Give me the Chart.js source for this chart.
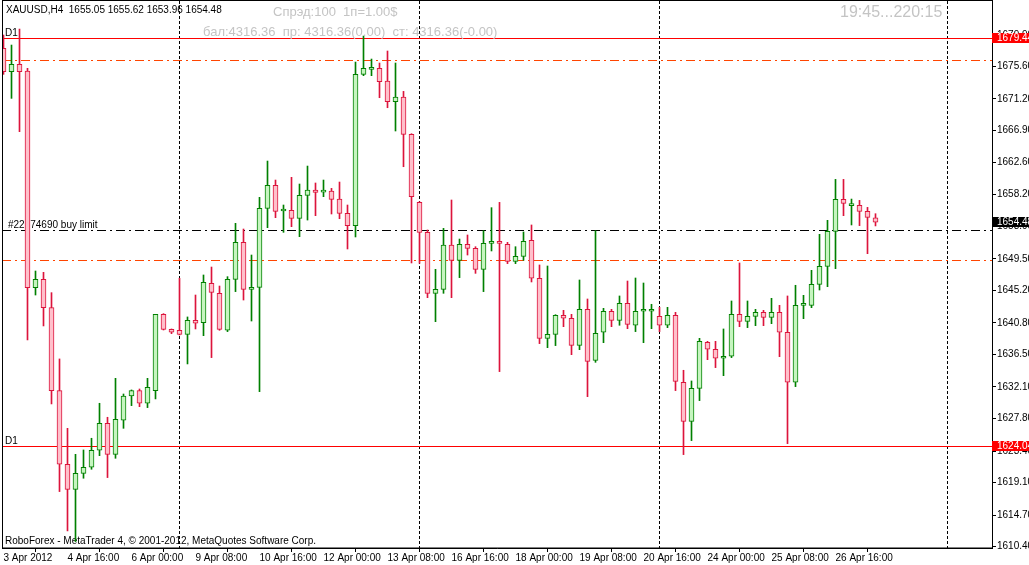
<!DOCTYPE html>
<html>
<head>
<meta charset="utf-8">
<script src="https://cdn.jsdelivr.net/npm/chart.js@4"></script>
<style>
  html, body { margin: 0; padding: 0; background: #fff; }
</style>
</head>
<body>
<canvas id="grafico-xauusd" width="1029" height="565"></canvas>
<script>
// XAUUSD H4, uma vela por barra (indice da barra = posicao no eixo x)
var abertura = [
  1678.07, 1674.90, 1675.90, 1674.99, 1645.58, 1646.71, 1642.86, 1631.60, 1621.60, 1618.20,
  1620.37, 1621.19, 1623.50, 1627.16, 1622.95, 1627.57, 1630.87, 1631.60, 1629.88, 1631.60,
  1641.96, 1639.92, 1639.79, 1639.24, 1641.14, 1640.83, 1646.17, 1644.81, 1639.79, 1646.71,
  1651.73, 1645.35, 1645.62, 1656.35, 1659.47, 1655.99, 1656.08, 1654.99, 1658.11, 1658.84,
  1658.56, 1658.70, 1657.61, 1655.67, 1653.99, 1674.54, 1675.22, 1675.35, 1673.63, 1670.83,
  1671.46, 1666.39, 1657.16, 1653.09, 1644.81, 1645.35, 1651.37, 1649.29, 1651.46, 1650.92,
  1648.07, 1651.60, 1651.87, 1651.46, 1649.15, 1649.83, 1652.00, 1646.85, 1638.70, 1639.24,
  1641.82, 1641.42, 1637.75, 1642.64, 1635.71, 1639.52, 1642.37, 1641.14, 1643.45, 1640.47,
  1642.37, 1642.37, 1641.69, 1640.47, 1641.82, 1632.73, 1627.43, 1631.91, 1638.16, 1637.21,
  1635.99, 1636.26, 1641.96, 1641.01, 1641.69, 1642.23, 1641.55, 1642.23, 1639.52, 1632.73,
  1643.18, 1643.18, 1646.03, 1648.47, 1653.23, 1657.57, 1656.71, 1656.76, 1655.94, 1655.05
];
var maxima = [
  1679.88, 1678.52, 1680.69, 1675.35, 1647.84, 1647.66, 1644.90, 1635.90, 1626.48, 1622.95,
  1623.54, 1625.13, 1629.88, 1627.98, 1633.27, 1631.14, 1631.69, 1631.82, 1633.27, 1641.96,
  1642.05, 1639.97, 1646.85, 1641.60, 1644.58, 1647.30, 1648.38, 1645.80, 1647.07, 1654.31,
  1653.54, 1650.01, 1657.84, 1662.77, 1660.19, 1656.80, 1660.56, 1659.65, 1662.09, 1659.79,
  1660.19, 1659.06, 1659.92, 1656.80, 1676.21, 1679.74, 1676.62, 1676.08, 1677.71, 1676.08,
  1672.23, 1666.48, 1657.25, 1653.41, 1648.07, 1653.63, 1657.48, 1652.18, 1652.73, 1651.14,
  1653.32, 1656.44, 1657.16, 1651.73, 1651.14, 1653.14, 1654.09, 1648.66, 1648.52, 1641.91,
  1642.50, 1641.96, 1646.62, 1644.04, 1653.32, 1642.77, 1642.64, 1644.45, 1646.48, 1646.89,
  1646.21, 1643.32, 1642.91, 1642.91, 1642.23, 1634.36, 1632.91, 1638.70, 1638.29, 1638.29,
  1639.97, 1643.77, 1648.93, 1643.77, 1642.64, 1642.50, 1644.13, 1643.18, 1644.45, 1645.90,
  1644.54, 1647.93, 1652.82, 1654.72, 1660.28, 1660.28, 1657.61, 1657.43, 1656.48, 1655.62
];
var minima = [
  1674.54, 1671.28, 1666.76, 1638.47, 1644.58, 1640.38, 1629.79, 1617.89, 1612.55, 1611.10,
  1619.70, 1620.92, 1622.77, 1619.79, 1622.41, 1626.48, 1629.56, 1629.42, 1629.29, 1630.47,
  1639.83, 1639.33, 1639.15, 1635.22, 1639.97, 1639.06, 1636.08, 1639.79, 1639.61, 1645.04,
  1643.90, 1641.05, 1631.46, 1653.72, 1655.08, 1653.09, 1653.86, 1652.50, 1654.76, 1655.35,
  1657.93, 1655.58, 1654.94, 1650.83, 1652.46, 1674.36, 1674.36, 1671.37, 1670.01, 1666.85,
  1662.00, 1648.93, 1648.88, 1644.22, 1640.96, 1644.81, 1644.22, 1646.94, 1650.01, 1647.52,
  1645.04, 1650.56, 1634.18, 1648.84, 1648.84, 1649.29, 1646.35, 1637.98, 1637.43, 1637.71,
  1640.28, 1636.48, 1637.16, 1630.78, 1635.44, 1638.11, 1640.28, 1640.47, 1640.01, 1639.61,
  1638.11, 1640.01, 1639.61, 1640.15, 1631.60, 1622.91, 1624.81, 1630.24, 1635.80, 1634.72,
  1633.63, 1636.08, 1640.28, 1640.15, 1640.42, 1640.42, 1640.69, 1636.21, 1624.40, 1632.14,
  1641.37, 1642.86, 1645.26, 1645.71, 1648.16, 1655.35, 1654.09, 1654.00, 1650.19, 1653.96
];
var fechamento = [
  1674.90, 1675.90, 1674.90, 1645.58, 1646.71, 1642.86, 1631.60, 1621.60, 1618.20, 1620.37,
  1621.19, 1623.50, 1627.16, 1622.95, 1627.71, 1630.87, 1631.60, 1629.88, 1632.05, 1641.96,
  1639.92, 1639.52, 1639.24, 1641.14, 1640.74, 1646.30, 1644.94, 1639.92, 1646.71, 1651.73,
  1645.35, 1645.62, 1656.35, 1659.47, 1655.94, 1656.08, 1654.99, 1658.11, 1658.84, 1658.52,
  1658.66, 1657.57, 1655.67, 1653.99, 1674.54, 1675.35, 1675.35, 1673.54, 1670.83, 1671.46,
  1666.39, 1657.93, 1653.09, 1644.81, 1645.35, 1651.37, 1649.29, 1651.46, 1650.92, 1648.07,
  1651.60, 1651.87, 1651.60, 1649.15, 1649.83, 1651.87, 1646.85, 1638.70, 1639.24, 1641.82,
  1641.42, 1637.75, 1642.64, 1635.58, 1639.38, 1642.37, 1641.14, 1643.45, 1640.60, 1642.37,
  1642.50, 1642.50, 1640.47, 1641.82, 1632.86, 1627.43, 1631.91, 1638.29, 1637.21, 1635.99,
  1636.26, 1641.96, 1641.01, 1641.69, 1642.23, 1641.55, 1642.23, 1639.52, 1632.73, 1643.18,
  1643.32, 1646.03, 1648.47, 1653.23, 1657.57, 1657.03, 1656.80, 1655.94, 1655.13, 1654.48
];

var tickTempo = ["3 Apr 2012", "4 Apr 16:00", "6 Apr 00:00", "9 Apr 08:00", "10 Apr 16:00",
  "12 Apr 00:00", "13 Apr 08:00", "16 Apr 16:00", "18 Apr 00:00", "19 Apr 08:00",
  "20 Apr 16:00", "24 Apr 00:00", "25 Apr 08:00", "26 Apr 16:00"];
var tickTempoBarra = [0, 8, 16, 24, 32, 40, 48, 56, 64, 72, 80, 88, 96, 104];
var tickPreco = [1610.40, 1614.70, 1619.10, 1623.40, 1627.80, 1632.10, 1636.50, 1640.80,
  1645.20, 1649.50, 1653.90, 1658.20, 1662.60, 1666.90, 1671.20, 1675.60, 1679.90];

var separadores = [22, 52, 82, 118];     // inicio de semana
var linhasD1 = [1679.44, 1624.04];
var linhasNivel = [1676.48, 1649.29];
var ordemBuyLimit = 1653.36;
var precoBid = 1654.48;

var fonte = "'Liberation Sans', Arial, sans-serif";
var verdeBorda = "#008000", verdeCorpo = "#c6f5c0";
var vermelhoBorda = "#dc143c", vermelhoCorpo = "#ffc0cb";

function alta(i) { return fechamento[i] >= abertura[i]; }

var barras = abertura.map(function (v, i) { return i; });

var desenhos = {
  id: "desenhos",
  beforeDatasetsDraw: function (chart) {
    var ctx = chart.ctx, a = chart.chartArea;
    var sx = chart.scales.x, sy = chart.scales.y;
    ctx.save();
    ctx.beginPath();
    ctx.rect(a.left, a.top, a.right - a.left, a.bottom - a.top);
    ctx.clip();
    ctx.lineWidth = 1;

    ctx.strokeStyle = "#000";
    ctx.setLineDash([3, 2]);
    separadores.forEach(function (b) {
      var px = sx.getPixelForValue(b);
      ctx.beginPath();
      ctx.moveTo(px, a.top);
      ctx.lineTo(px, a.bottom);
      ctx.stroke();
    });

    function linhaH(v, cor, tracos) {
      var py = Math.round(sy.getPixelForValue(v)) + 0.5;
      ctx.strokeStyle = cor;
      ctx.setLineDash(tracos);
      ctx.beginPath();
      ctx.moveTo(a.left, py);
      ctx.lineTo(a.right, py);
      ctx.stroke();
      return py;
    }
    linhasNivel.forEach(function (v) { linhaH(v, "#ff4500", [9, 4, 2, 4]); });
    var yOrdem = linhaH(ordemBuyLimit, "#000", [9, 4, 2, 4]);

    ctx.fillStyle = "#000";
    ctx.font = "10px " + fonte;
    ctx.textBaseline = "alphabetic";
    ctx.textAlign = "left";
    linhasD1.forEach(function (v) {
      var py = linhaH(v, "#ff0000", []);
      ctx.fillText("D1", 5, py - 3);
    });
    ctx.fillText("#22174690 buy limit", 8, yOrdem - 3);
    ctx.fillText("RoboForex - MetaTrader 4, \u00a9 2001-2012, MetaQuotes Software Corp.", 5, a.bottom - 4);
    ctx.restore();
  },
  afterDraw: function (chart) {
    var ctx = chart.ctx, a = chart.chartArea, sy = chart.scales.y;
    ctx.save();
    ctx.strokeStyle = "#000";
    ctx.lineWidth = 1;
    ctx.strokeRect(a.left + 0.5, a.top - 0.5, a.right - a.left, a.bottom - a.top + 0.5);

    ctx.textAlign = "left";
    ctx.textBaseline = "middle";
    ctx.fillStyle = "#000";
    ctx.font = "10px " + fonte;
    ctx.fillText("XAUUSD,H4  " + abertura[109].toFixed(2) + " " + maxima[109].toFixed(2) + " " +
      minima[109].toFixed(2) + " " + fechamento[109].toFixed(2), 6, 10);

    ctx.fillStyle = "#c4c4c4";
    ctx.font = "13px " + fonte;
    ctx.fillText("\u0421\u043f\u0440\u044d\u0434:100  1\u043f=1.00$", 273, 12);
    ctx.fillText("\u0431\u0430\u043b:4316.36  \u043f\u0440: 4316.36(0.00)  \u0441\u0442: 4316.36(-0.00)", 203, 32);
    ctx.font = "16px " + fonte;
    ctx.fillText("19:45...220:15", 840, 13);

    function etiqueta(v, fundo) {
      var py = Math.round(sy.getPixelForValue(v));
      ctx.fillStyle = fundo;
      ctx.fillRect(a.right, py - 5, chart.width - a.right, 10);
      ctx.fillStyle = "#fff";
      ctx.font = "10px " + fonte;
      ctx.fillText(v.toFixed(2), a.right + 5, py);
    }
    linhasD1.forEach(function (v) { etiqueta(v, "#ff0000"); });
    etiqueta(precoBid, "#000");
    ctx.restore();
  }
};

new Chart(document.getElementById("grafico-xauusd").getContext("2d"), {
  type: "bar",
  data: {
    datasets: [
      {
        label: "corpo",
        data: barras.map(function (i) { return { x: i, y: [abertura[i], fechamento[i]] }; }),
        grouped: false,
        order: 0,
        barThickness: 5,
        minBarLength: 2,
        borderWidth: 1,
        borderSkipped: false,
        backgroundColor: function (c) { return alta(c.dataIndex) ? verdeCorpo : vermelhoCorpo; },
        borderColor: function (c) { return alta(c.dataIndex) ? verdeBorda : vermelhoBorda; },
      },
      {
        label: "sombra",
        data: barras.map(function (i) { return { x: i, y: [minima[i], maxima[i]] }; }),
        grouped: false,
        order: 1,
        barThickness: 1,
        borderWidth: 0,
        backgroundColor: function (c) { return alta(c.dataIndex) ? verdeBorda : vermelhoBorda; },
      },
    ],
  },
  options: {
    responsive: false,
    animation: false,
    devicePixelRatio: 1,
    layout: { padding: { left: 2, top: 1, right: 0, bottom: 0 } },
    plugins: {
      legend: { display: false },
      title: { display: false },
      tooltip: { enabled: false },
    },
    scales: {
      x: {
        type: "linear",
        offset: false,
        min: -0.1875,
        max: 123.5625,
        afterFit: function (s) {
          s.height = 17;
          s.paddingLeft = 0;
          s.paddingRight = 0;
        },
        afterBuildTicks: function (s) {
          s.ticks = tickTempoBarra.map(function (v) { return { value: v }; });
        },
        grid: { drawOnChartArea: false, tickLength: 4, color: "#000", tickColor: "#000" },
        border: { display: true, color: "#000" },
        ticks: {
          autoSkip: false,
          maxRotation: 0,
          align: "start",
          padding: 0,
          color: "#000",
          font: { family: fonte, size: 10 },
          callback: function (v, i) { return tickTempo[i]; },
        },
      },
      y: {
        position: "right",
        min: 1610.23,
        max: 1684.50,
        afterFit: function (s) {
          s.width = 37;
          s.paddingTop = 0;
          s.paddingBottom = 0;
        },
        afterBuildTicks: function (s) {
          s.ticks = tickPreco.map(function (v) { return { value: v }; });
        },
        grid: { drawOnChartArea: false, tickLength: 4, color: "#000", tickColor: "#000" },
        border: { display: true, color: "#000" },
        ticks: {
          padding: 1,
          color: "#000",
          font: { family: fonte, size: 10 },
          callback: function (v) { return Number(v).toFixed(2); },
        },
      },
    },
  },
  plugins: [desenhos],
});
</script>
</body>
</html>
